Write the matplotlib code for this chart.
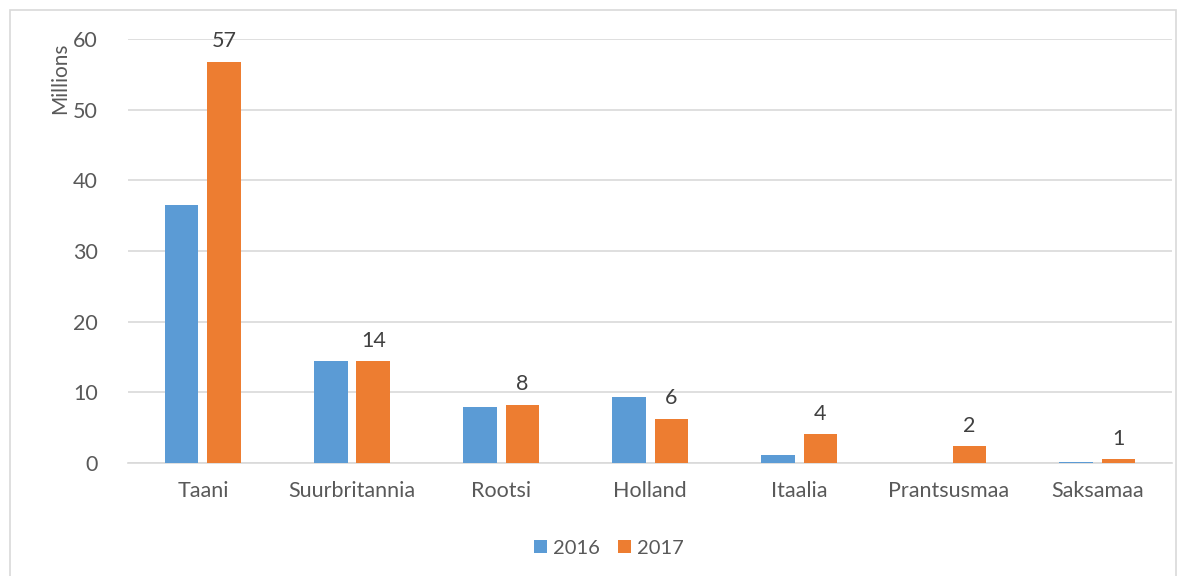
import numpy as np
import matplotlib.pyplot as plt
from matplotlib.patches import Rectangle

# andmed
riigid = ["Taani", "Suurbritannia", "Rootsi", "Holland", "Itaalia", "Prantsusmaa", "Saksamaa"]
v2016 = [36.5, 14.4, 7.9, 9.3, 1.1, 0.0, 0.15]
v2017 = [56.8, 14.4, 8.25, 6.3, 4.1, 2.36, 0.56]
sildid = ["57", "14", "8", "6", "4", "2", "1"]

sinine = "#5b9bd5"
oranz = "#ed7d31"
hall = "#595959"

plt.rcParams['font.family'] = ['Lato', 'DejaVu Sans']

fig = plt.figure(figsize=(11.86, 5.76), dpi=100)
ax = fig.add_axes([0.1083, 0.196, 0.8797, 0.736])

# raam ümber graafiku
fig.patches.append(Rectangle((10/1186, -0.01), 1 - 20/1186, 1 - 10/576 + 0.01,
                             transform=fig.transFigure, fill=False,
                             edgecolor="#d9d9d9", lw=1.2))

x = np.arange(len(riigid))
w = 0.225
ax.bar(x - 0.1425, v2016, w, color=sinine, label="2016", zorder=3)
ax.bar(x + 0.1425, v2017, w, color=oranz, label="2017", zorder=3)

for k in range(len(riigid)):
    ax.text(x[k] + 0.1425, v2017[k] + 1.5, sildid[k], ha="center", va="bottom",
            fontsize=15.5, color="#404040")

ax.set_xlim(-0.5, len(riigid) - 0.5)
ax.set_ylim(0, 60)
ax.set_yticks(range(0, 61, 10))
ax.set_xticks(x)
ax.set_xticklabels(riigid)
ax.yaxis.grid(True, color="#d9d9d9", lw=1.2, zorder=0)
ax.tick_params(length=0, labelsize=15.5, labelcolor=hall)
ax.tick_params(axis="x", pad=13)
ax.tick_params(axis="y", pad=22)
for s in ["top", "right", "left"]:
    ax.spines[s].set_visible(False)
ax.spines["bottom"].set_color("#d9d9d9")
ax.spines["bottom"].set_linewidth(1.2)

fig.text(60/1186, 1 - 78/576, "Millions", rotation=90, ha="center", va="center",
         fontsize=15, color=hall)

fig.legend(loc="center", bbox_to_anchor=(609/1186, 1 - 548/576), ncol=2, frameon=False,
           fontsize=14.5, handlelength=0.65, handleheight=0.65, handletextpad=0.3,
           columnspacing=0.9, labelcolor=hall)

fig.savefig("out.png", dpi=100)
